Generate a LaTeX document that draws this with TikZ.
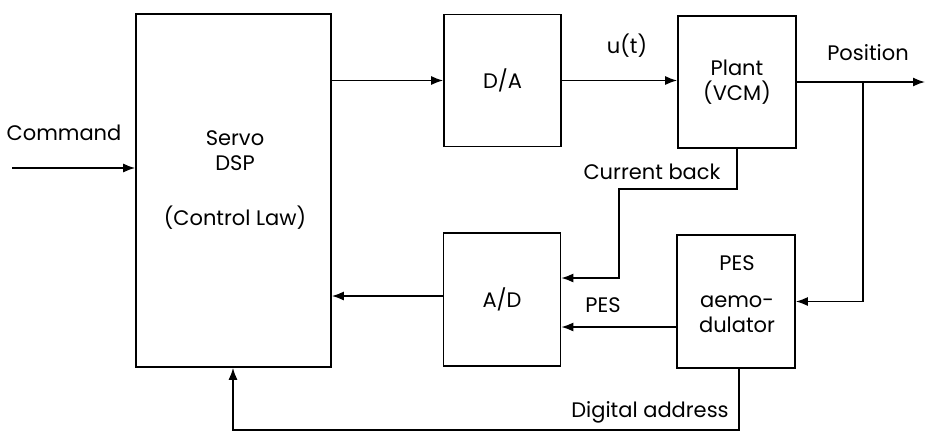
\documentclass[tikz,border=0pt]{standalone}
\usepackage{fontspec}
\setmainfont{Poppins}
\usetikzlibrary{arrows.meta,positioning,calc}
\tikzset{
  sblk/.style={rectangle, draw, line width=1.6pt, inner sep=0pt, minimum width=117pt, minimum height=132pt},
  stxt/.style={align=center, inner sep=0pt, font=\fontsize{21}{25}\selectfont},
  sarr/.style={-{Latex[length=12pt,width=9pt]}, line width=1.6pt},
}
\begin{document}
\begin{tikzpicture}[x=1pt,y=-1pt]
        \useasboundingbox (0,0) rectangle (925,432);
        \node[sblk,minimum width=195pt,minimum height=353pt](dsp) at (233.5,190.5){};
        \node[stxt](dsptxt) at (235,180){Servo\\DSP\\[30pt](Control Law)};
        \node[sblk](da) at (502.5,80.5){};
        \node[stxt] at (da){D/A};
        \node[sblk,minimum width=118pt](plant) at (737,82){};
        \node[stxt] at (plant){Plant\\(VCM)};
        \node[sblk,minimum height=133pt](ad) at (502,299.5){};
        \node[stxt] at (ad){A/D};
        \node[sblk,minimum width=118pt,minimum height=133pt](pes) at (736,301.5){};
        \node[stxt](pestxt) at (737,294){PES\\[12pt]aemo-\\dulator};
        % signal labels
        \node[stxt](cmdlbl) at (64,133){Command};
        \node[stxt](ulbl) at (627,46){u(t)};
        \node[stxt](poslbl) at (868,53){Position};
        \node[stxt](cblbl) at (652,172){Current back};
        \node[stxt](peslbl) at (603,305){PES};
        \node[stxt](dgllbl) at (650,412){Digital address};
        % connectors
        \coordinate (cmdin) at (12,168);
        \coordinate (posout) at (925,82);
        \coordinate (br) at (863,82);
        \coordinate (cb) at (619,189);
        \coordinate (dgl) at (233,430);
        \draw[sarr](cmdin)--(cmdin -| dsp.west);
        \draw[sarr](da.west -| dsp.east)--(da.west);
        \draw[sarr](da.east)--(da.east -| plant.west);
        \draw[sarr](plant.east)--(posout);
        \draw[sarr](br)|-(pes.east);
        \draw[sarr](plant.south)|-(cb)|-([yshift=21.5pt]ad.east);
        \draw[sarr]([yshift=-25.5pt]pes.west)--([yshift=-25.5pt]pes.west -| ad.east);
        \draw[sarr]([yshift=3.5pt]ad.west)--([yshift=3.5pt]ad.west -| dsp.east);
        \draw[sarr]([xshift=3pt]pes.south)|-(dgl)--(dgl |- dsp.south);
    \end{tikzpicture}
\end{document}
